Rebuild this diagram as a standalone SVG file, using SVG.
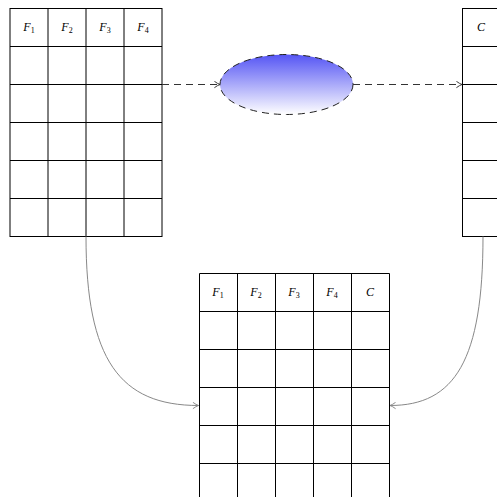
<svg xmlns="http://www.w3.org/2000/svg" width="497" height="497" viewBox="0 0 497 497">
<style>
.grid{fill:none;stroke:#000;stroke-width:1}
.hd{font-family:"Liberation Serif",serif;font-size:12px;font-style:italic;fill:#000;text-anchor:middle}
.sub{font-style:normal;font-size:8px}
.dash{fill:none;stroke:#333;stroke-width:1;stroke-dasharray:7,5}
.curve{fill:none;stroke:#888;stroke-width:1}
</style>
<defs>
<linearGradient id="g" x1="0" y1="0" x2="0" y2="1">
<stop offset="0" stop-color="#5555f4"/>
<stop offset="1" stop-color="#ffffff"/>
</linearGradient>
<marker id="ad" viewBox="0 0 10 10" refX="9" refY="5" markerWidth="8" markerHeight="8" markerUnits="userSpaceOnUse" orient="auto">
<path d="M2,1 Q6,4 9,5 Q6,6 2,9" fill="none" stroke="#333" stroke-width="1.2"/>
</marker>
<marker id="ag" viewBox="0 0 10 10" refX="9" refY="5" markerWidth="8" markerHeight="8" markerUnits="userSpaceOnUse" orient="auto">
<path d="M2,1 Q6,4 9,5 Q6,6 2,9" fill="none" stroke="#888" stroke-width="1.2"/>
</marker>
</defs>
<rect width="497" height="497" fill="#fff"/>

<g id="tableLeft">
<rect class="grid" x="10" y="8.5" width="152" height="228"/>
<path class="grid" d="M48,8.5V236.5M86,8.5V236.5M124,8.5V236.5M10,46.5H162M10,84.5H162M10,122.5H162M10,160.5H162M10,198.5H162"/>
<text class="hd" x="29" y="31">F<tspan class="sub" dy="2">1</tspan></text>
<text class="hd" x="67" y="31">F<tspan class="sub" dy="2">2</tspan></text>
<text class="hd" x="105" y="31">F<tspan class="sub" dy="2">3</tspan></text>
<text class="hd" x="143" y="31">F<tspan class="sub" dy="2">4</tspan></text>
</g>

<g id="classifier">
<ellipse cx="286.5" cy="84.5" rx="66.5" ry="30" fill="url(#g)" stroke="#222" stroke-width="1" stroke-dasharray="7,5"/>
</g>

<g id="tableRight">
<rect class="grid" x="462.5" y="8.5" width="38" height="228"/>
<path class="grid" d="M462.5,46.5H500M462.5,84.5H500M462.5,122.5H500M462.5,160.5H500M462.5,198.5H500"/>
<text class="hd" x="481" y="31">C</text>
</g>

<g id="tableBottom">
<path class="grid" d="M199.5,510V273.5H389.5V510M237.5,273.5V510M275.5,273.5V510M313.5,273.5V510M351.5,273.5V510M199.5,311.5H389.5M199.5,349.5H389.5M199.5,387.5H389.5M199.5,425.5H389.5M199.5,463.5H389.5"/>
<text class="hd" x="218" y="296">F<tspan class="sub" dy="2">1</tspan></text>
<text class="hd" x="256" y="296">F<tspan class="sub" dy="2">2</tspan></text>
<text class="hd" x="294" y="296">F<tspan class="sub" dy="2">3</tspan></text>
<text class="hd" x="332" y="296">F<tspan class="sub" dy="2">4</tspan></text>
<text class="hd" x="370" y="296">C</text>
</g>

<g id="connectors">
<path class="dash" d="M162,84.5H220" marker-end="url(#ad)"/>
<path class="dash" d="M353,84.5H462" marker-end="url(#ad)"/>
<path class="curve" d="M86,236.5C86,360 120,405.5 198.5,405.5" marker-end="url(#ag)"/>
<path class="curve" d="M483,236.5C483,360 455,405.5 390,405.5" marker-end="url(#ag)"/>
</g>
</svg>
